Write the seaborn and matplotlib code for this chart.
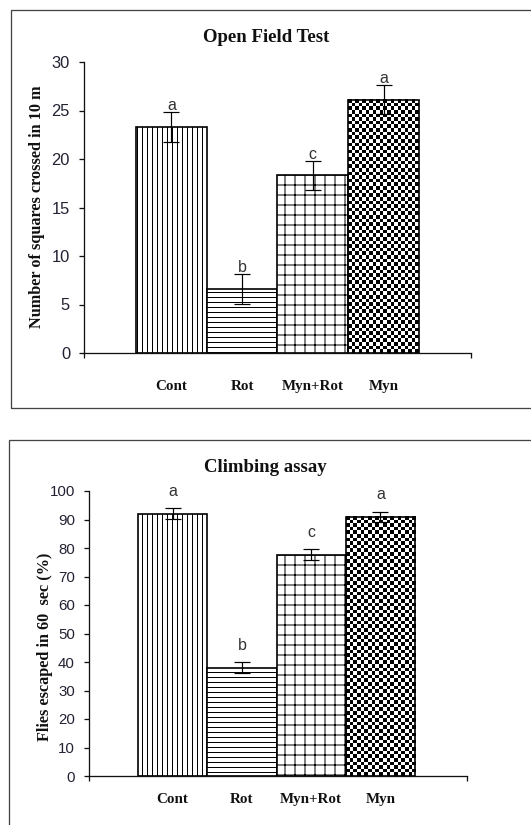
import numpy as np
import pandas as pd
import matplotlib
matplotlib.use("Agg")
import matplotlib.pyplot as plt
import seaborn as sns
from matplotlib.patches import Rectangle

# ---------------- data ----------------
groups = ["Cont", "Rot", "Myn+Rot", "Myn"]

oft_values = [23.3, 6.6, 18.3, 26.1]
oft_errors = [1.5, 1.5, 1.5, 1.5]
oft_letters = ["a", "b", "c", "a"]
oft_yticks = [0, 5, 10, 15, 20, 25, 30]

climb_values = [92.1, 38.0, 77.7, 90.9]
climb_errors = [1.9, 1.9, 1.8, 1.8]
climb_letters = ["a", "b", "c", "a"]
climb_yticks = [0, 10, 20, 30, 40, 50, 60, 70, 80, 90, 100]

titles = ["Open Field Test", "Climbing assay"]
ylabels = ["Number of squares crossed in 10 m", "Flies escaped in 60  sec (%)"]

hatches = ["||||", "----", "++", "checker"]

# ---------------- style ----------------
DPI = 120
W, H = 531, 825
PT = 72.0 / DPI  # points per pixel

sns.set_style("ticks")
plt.rcParams["hatch.color"] = "black"
plt.rcParams["hatch.linewidth"] = 1.0 * PT
SERIF = ["Liberation Serif", "DejaVu Serif"]
SANS = ["Liberation Sans", "DejaVu Sans"]
plt.rcParams["font.family"] = SANS

fig = plt.figure(figsize=(W / DPI, H / DPI), dpi=DPI)
fig.patch.set_facecolor("white")


def px_rect(l, t, r, b):
    return [l / W, 1 - b / H, (r - l) / W, (b - t) / H]


def checker(ax, bar, cell_px=3.6):
    x0 = bar.get_x()
    x1 = x0 + bar.get_width()
    y0 = bar.get_y()
    y1 = y0 + bar.get_height()
    (px0, py0), (px1, py1) = ax.transData.transform([(x0, y0), (x1, y1)])
    nc = max(1, int(round((px1 - px0) / cell_px)))
    nr = max(1, int(round((py1 - py0) / cell_px)))
    arr = np.indices((nr, nc)).sum(axis=0) % 2
    ax.imshow(arr, cmap="gray", vmin=0, vmax=1, extent=(x0, x1, y0, y1),
              origin="upper", aspect="auto", interpolation="nearest",
              zorder=bar.get_zorder() - 0.1)
    bar.set_facecolor("none")


def panel(rect, xlim, values, errors, letters, yticks, title, ylabel,
          title_xy, ylabel_xy, letter_off_px, xlabel_pad_px, tick_fs, label_fs):
    ax = fig.add_axes(px_rect(*rect))
    df = pd.DataFrame({"group": groups, "value": values})
    sns.barplot(data=df, x="group", y="value", color="white", edgecolor="black",
                linewidth=1.0, width=1.0, errorbar=None, ax=ax, saturation=1)
    ax.set_xlim(*xlim)
    ax.set_ylim(yticks[0], yticks[-1])
    bars = list(ax.patches)
    centers = [b.get_x() + b.get_width() / 2 for b in bars]
    for b, h in zip(bars, hatches):
        b.set_zorder(2)
        if h == "checker":
            checker(ax, b)
        else:
            b.set_hatch(h)
    ax.set_xlim(*xlim)
    ax.set_ylim(yticks[0], yticks[-1])
    ax.errorbar(centers, values, yerr=errors, fmt="none", ecolor="black",
                elinewidth=1.2 * PT, capsize=8 * PT, capthick=1.2 * PT,
                zorder=4)
    for c, v, e, l in zip(centers, values, errors, letters):
        ax.annotate(l, xy=(c, v + e), xytext=(0, letter_off_px * PT),
                    textcoords="offset points", ha="center", va="bottom",
                    fontsize=label_fs, color="#333333", family=SANS)
    for s in ["top", "right"]:
        ax.spines[s].set_visible(False)
    for s in ["left", "bottom"]:
        ax.spines[s].set_linewidth(1.3 * PT)
        ax.spines[s].set_color("#111111")
    ax.set_yticks(yticks)
    ax.set_yticklabels([str(t) for t in yticks], family=SANS, fontsize=tick_fs,
                       color="#222233")
    ax.tick_params(axis="y", direction="out", length=5 * PT, width=1.3 * PT,
                   pad=9 * PT, color="#111111")
    ax.set_xticks(centers)
    ax.set_xticklabels(groups, family=SERIF, fontweight="bold",
                       fontsize=15 * PT, color="#111111")
    ax.tick_params(axis="x", which="major", length=0, pad=xlabel_pad_px * PT)
    ax.set_xticks(list(xlim), minor=True)
    ax.tick_params(axis="x", which="minor", direction="out", length=5 * PT,
                   width=1.3 * PT, color="#111111")
    ax.set_xlabel("")
    ax.set_ylabel("")
    ax.set_facecolor("white")
    fig.text(title_xy[0] / W, 1 - title_xy[1] / H, title, ha="center", va="center",
             family=SERIF, fontweight="bold", fontsize=18.8 * PT, color="#111111")
    fig.text(ylabel_xy[0] / W, 1 - ylabel_xy[1] / H, ylabel, ha="center",
             va="center", rotation=90, family=SERIF, fontweight="bold",
             fontsize=16.2 * PT, color="#111111")
    return ax


# frames around each panel (right/bottom run off the picture)
fig.add_artist(Rectangle((11 / W, 1 - 408 / H), 1.2, (408 - 10) / H,
                         transform=fig.transFigure, fill=False,
                         edgecolor="#444444", linewidth=1.3 * PT))
fig.add_artist(Rectangle((9 / W, -0.2), 1.2, 0.2 + 1 - 440 / H,
                         transform=fig.transFigure, fill=False,
                         edgecolor="#444444", linewidth=1.3 * PT))

panel((84, 62, 471, 353), (-1.235, 4.235), oft_values, oft_errors, oft_letters,
      oft_yticks, titles[0], ylabels[0], (266, 38), (37, 207), -1, 27,
      16.5 * PT, 16 * PT)
panel((89, 491, 467, 776), (-1.208, 4.251), climb_values, climb_errors,
      climb_letters, climb_yticks, titles[1], ylabels[1], (265, 468), (45, 647),
      9.5, 17, 15 * PT, 16 * PT)

fig.savefig("out.png", dpi=DPI, facecolor="white")
